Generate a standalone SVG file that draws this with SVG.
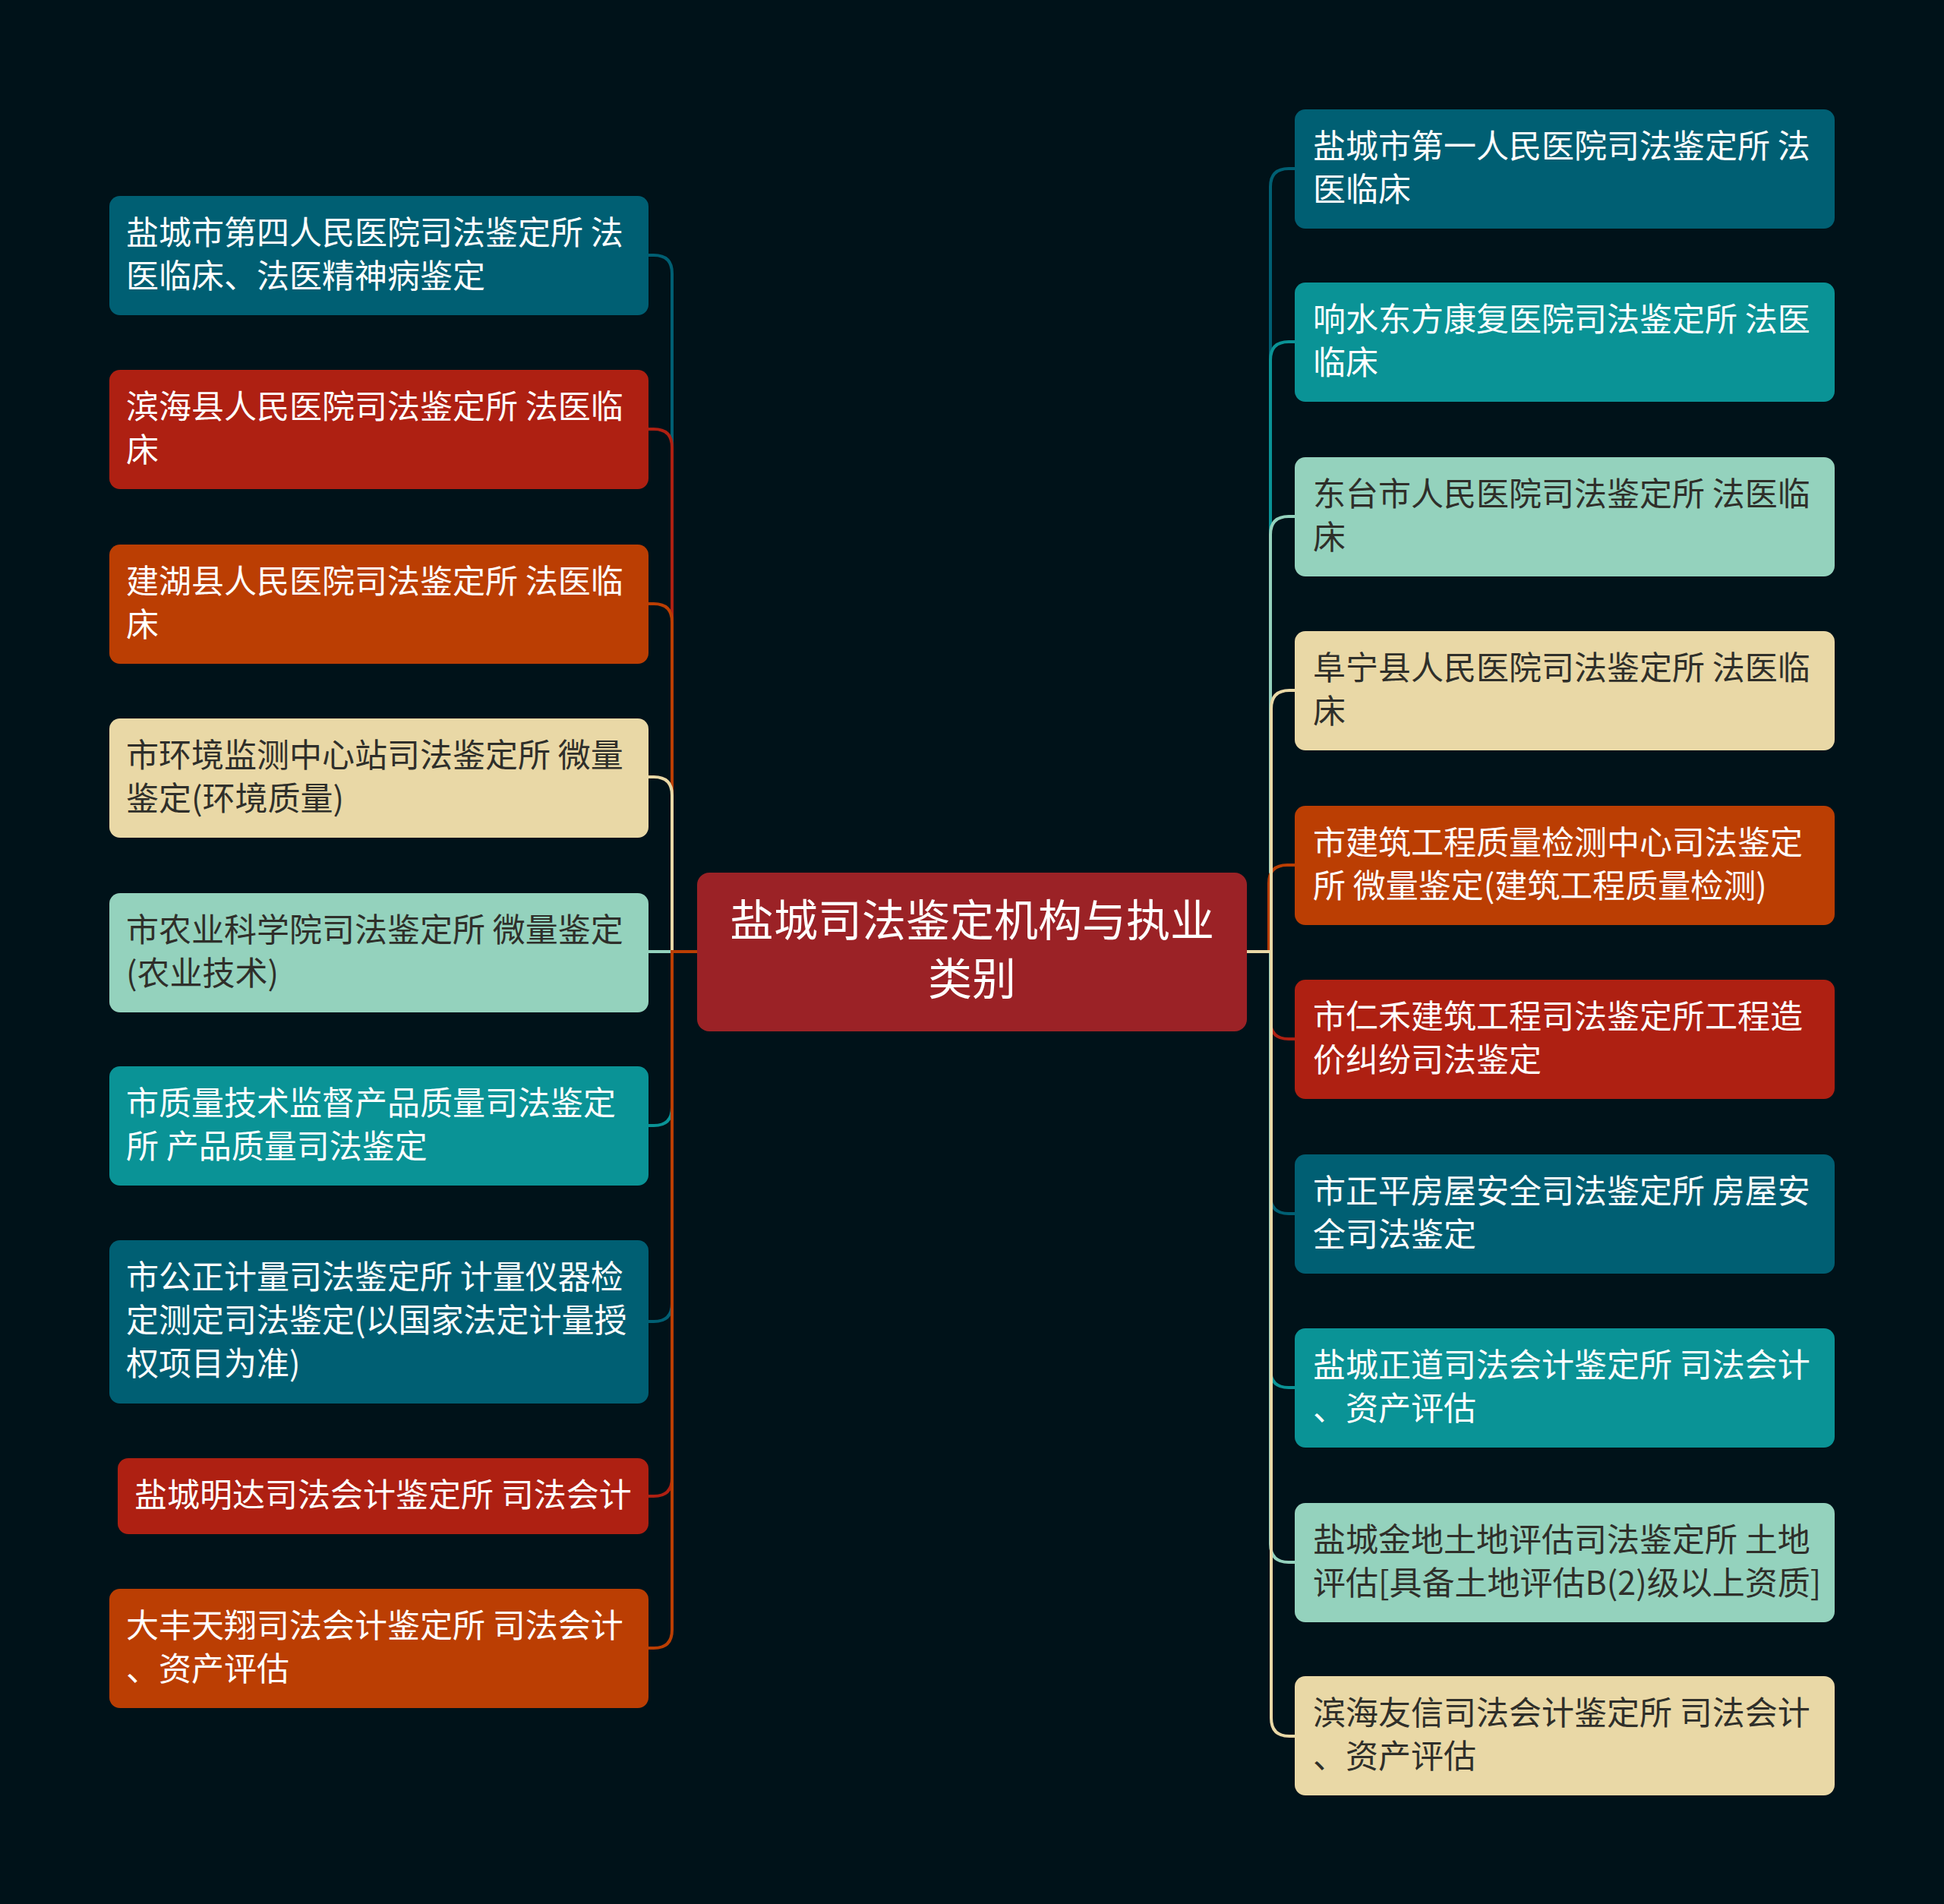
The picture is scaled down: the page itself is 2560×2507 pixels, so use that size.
<svg xmlns="http://www.w3.org/2000/svg" width="2560" height="2507" viewBox="0 0 2560 2507">
<style>
.t{font-family:"Noto Sans CJK SC","Noto Sans",sans-serif;font-size:43px;}
.w{fill:#ffffff;}
.d{fill:#2f2f2a;}
.c{fill:none;stroke-width:4;}
.ct{font-family:"Noto Sans CJK SC","Noto Sans",sans-serif;font-size:58px;fill:#ffffff;text-anchor:middle;}
</style>
<rect x="0" y="0" width="2560" height="2507" fill="#001219"/>
<g id="connectors">
<path class="c" stroke="#005f73" d="M918,1253 H885 V360 Q885,336 861,336 H852"/>
<path class="c" stroke="#ae2012" d="M918,1253 H885 V589 Q885,565 861,565 H852"/>
<path class="c" stroke="#bb3e03" d="M918,1253 H885 V819 Q885,795 861,795 H852"/>
<path class="c" stroke="#e9d8a6" d="M918,1253 H885 V1047 Q885,1023 861,1023 H852"/>
<path class="c" stroke="#94d2bd" d="M918,1253 H852"/>
<path class="c" stroke="#0a9396" d="M918,1253 H885 V1458 Q885,1482 861,1482 H852"/>
<path class="c" stroke="#005f73" d="M918,1253 H885 V1716 Q885,1740 861,1740 H852"/>
<path class="c" stroke="#ae2012" d="M918,1253 H885 V1946 Q885,1970 861,1970 H852"/>
<path class="c" stroke="#bb3e03" d="M918,1253 H885 V2146 Q885,2170 861,2170 H852"/>
<path class="c" stroke="#005f73" d="M1642,1253 H1673 V246 Q1673,222 1697,222 H1707"/>
<path class="c" stroke="#0a9396" d="M1642,1253 H1673 V474 Q1673,450 1697,450 H1707"/>
<path class="c" stroke="#94d2bd" d="M1642,1253 H1673 V704 Q1673,680 1697,680 H1707"/>
<path class="c" stroke="#bb3e03" d="M1642,1253 H1671 V1163 Q1671,1139 1695,1139 H1707"/>
<path class="c" stroke="#e9d8a6" d="M1642,1253 H1674 V933 Q1674,909 1698,909 H1707"/>
<path class="c" stroke="#ae2012" d="M1642,1253 H1673 V1344 Q1673,1368 1697,1368 H1707"/>
<path class="c" stroke="#005f73" d="M1642,1253 H1673 V1574 Q1673,1598 1697,1598 H1707"/>
<path class="c" stroke="#0a9396" d="M1642,1253 H1673 V1803 Q1673,1827 1697,1827 H1707"/>
<path class="c" stroke="#94d2bd" d="M1642,1253 H1673 V2033 Q1673,2057 1697,2057 H1707"/>
<path class="c" stroke="#e9d8a6" d="M1642,1253 H1674 V2262 Q1674,2286 1698,2286 H1707"/>
</g>
<g id="center">
<rect x="918" y="1149" width="724" height="209" rx="16" fill="#9b2226"/>
<text class="ct" x="1280" y="1233">盐城司法鉴定机构与执业</text>
<text class="ct" x="1280" y="1310">类别</text>
</g>
<g id="L1">
<rect x="144" y="258" width="710" height="157" rx="14" fill="#005f73"/>
<text class="t w" x="166" y="322">盐城市第四人民医院司法鉴定所 法</text>
<text class="t w" x="166" y="379">医临床、法医精神病鉴定</text>
</g>
<g id="L2">
<rect x="144" y="487" width="710" height="157" rx="14" fill="#ae2012"/>
<text class="t w" x="166" y="551">滨海县人民医院司法鉴定所 法医临</text>
<text class="t w" x="166" y="608">床</text>
</g>
<g id="L3">
<rect x="144" y="717" width="710" height="157" rx="14" fill="#bb3e03"/>
<text class="t w" x="166" y="781">建湖县人民医院司法鉴定所 法医临</text>
<text class="t w" x="166" y="838">床</text>
</g>
<g id="L4">
<rect x="144" y="946" width="710" height="157" rx="14" fill="#e9d8a6"/>
<text class="t d" x="166" y="1010">市环境监测中心站司法鉴定所 微量</text>
<text class="t d" x="166" y="1067">鉴定(环境质量)</text>
</g>
<g id="L5">
<rect x="144" y="1176" width="710" height="157" rx="14" fill="#94d2bd"/>
<text class="t d" x="166" y="1240">市农业科学院司法鉴定所 微量鉴定</text>
<text class="t d" x="166" y="1297">(农业技术)</text>
</g>
<g id="L6">
<rect x="144" y="1404" width="710" height="157" rx="14" fill="#0a9396"/>
<text class="t w" x="166" y="1468">市质量技术监督产品质量司法鉴定</text>
<text class="t w" x="166" y="1525">所 产品质量司法鉴定</text>
</g>
<g id="L7">
<rect x="144" y="1633" width="710" height="215" rx="14" fill="#005f73"/>
<text class="t w" x="166" y="1697">市公正计量司法鉴定所 计量仪器检</text>
<text class="t w" x="166" y="1754">定测定司法鉴定(以国家法定计量授</text>
<text class="t w" x="166" y="1811">权项目为准)</text>
</g>
<g id="L8">
<rect x="155" y="1920" width="699" height="100" rx="14" fill="#ae2012"/>
<text class="t w" x="177" y="1984">盐城明达司法会计鉴定所 司法会计</text>
</g>
<g id="L9">
<rect x="144" y="2092" width="710" height="157" rx="14" fill="#bb3e03"/>
<text class="t w" x="166" y="2156">大丰天翔司法会计鉴定所 司法会计</text>
<text class="t w" x="166" y="2213">、资产评估</text>
</g>
<g id="R1">
<rect x="1705" y="144" width="711" height="157" rx="14" fill="#005f73"/>
<text class="t w" x="1729" y="208">盐城市第一人民医院司法鉴定所 法</text>
<text class="t w" x="1729" y="265">医临床</text>
</g>
<g id="R2">
<rect x="1705" y="372" width="711" height="157" rx="14" fill="#0a9396"/>
<text class="t w" x="1729" y="436">响水东方康复医院司法鉴定所 法医</text>
<text class="t w" x="1729" y="493">临床</text>
</g>
<g id="R3">
<rect x="1705" y="602" width="711" height="157" rx="14" fill="#94d2bd"/>
<text class="t d" x="1729" y="666">东台市人民医院司法鉴定所 法医临</text>
<text class="t d" x="1729" y="723">床</text>
</g>
<g id="R4">
<rect x="1705" y="831" width="711" height="157" rx="14" fill="#e9d8a6"/>
<text class="t d" x="1729" y="895">阜宁县人民医院司法鉴定所 法医临</text>
<text class="t d" x="1729" y="952">床</text>
</g>
<g id="R5">
<rect x="1705" y="1061" width="711" height="157" rx="14" fill="#bb3e03"/>
<text class="t w" x="1729" y="1125">市建筑工程质量检测中心司法鉴定</text>
<text class="t w" x="1729" y="1182">所 微量鉴定(建筑工程质量检测)</text>
</g>
<g id="R6">
<rect x="1705" y="1290" width="711" height="157" rx="14" fill="#ae2012"/>
<text class="t w" x="1729" y="1354">市仁禾建筑工程司法鉴定所工程造</text>
<text class="t w" x="1729" y="1411">价纠纷司法鉴定</text>
</g>
<g id="R7">
<rect x="1705" y="1520" width="711" height="157" rx="14" fill="#005f73"/>
<text class="t w" x="1729" y="1584">市正平房屋安全司法鉴定所 房屋安</text>
<text class="t w" x="1729" y="1641">全司法鉴定</text>
</g>
<g id="R8">
<rect x="1705" y="1749" width="711" height="157" rx="14" fill="#0a9396"/>
<text class="t w" x="1729" y="1813">盐城正道司法会计鉴定所 司法会计</text>
<text class="t w" x="1729" y="1870">、资产评估</text>
</g>
<g id="R9">
<rect x="1705" y="1979" width="711" height="157" rx="14" fill="#94d2bd"/>
<text class="t d" x="1729" y="2043">盐城金地土地评估司法鉴定所 土地</text>
<text class="t d" x="1729" y="2100">评估[具备土地评估B(2)级以上资质]</text>
</g>
<g id="R10">
<rect x="1705" y="2207" width="711" height="157" rx="14" fill="#e9d8a6"/>
<text class="t d" x="1729" y="2271">滨海友信司法会计鉴定所 司法会计</text>
<text class="t d" x="1729" y="2328">、资产评估</text>
</g>
</svg>
